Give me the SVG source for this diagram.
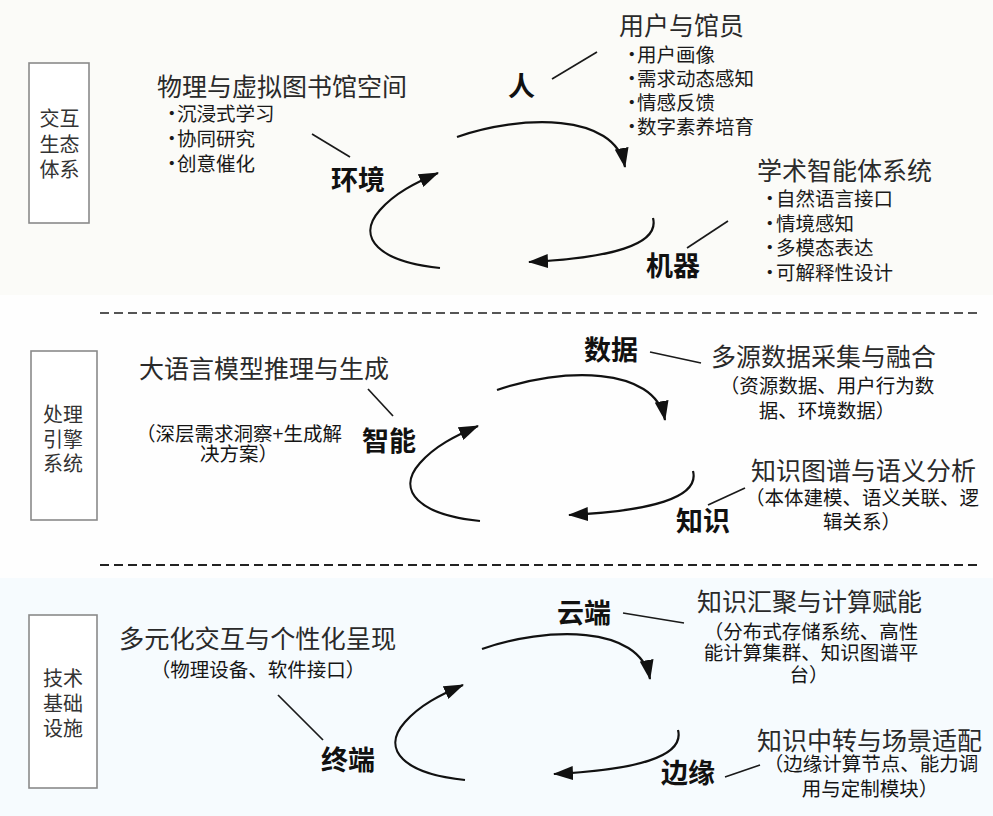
<svg xmlns="http://www.w3.org/2000/svg" width="993" height="816" viewBox="0 0 993 816">
<style>
text{font-family:"Noto Sans CJK SC","Noto Sans",sans-serif;fill:#1e1e1e}
.box{fill:#fff;stroke:#8a8a8a;stroke-width:1.6}
.bl{font-size:20px;fill:#333;text-anchor:middle}
.hd{font-size:25px;font-weight:400;fill:#2a2a2a}
.it{font-size:19.5px;fill:#1a1a1a}
.sub{font-size:19.5px;fill:#151515;text-anchor:middle}
.kw{font-size:27px;font-weight:bold;fill:#111}
.arc{fill:none;stroke:#111;stroke-width:2.2;marker-end:url(#ah)}
.ln{stroke:#1a1a1a;stroke-width:1.7}
.dash{stroke-width:2;stroke-dasharray:9 5}
</style>
<defs>
<marker id="ah" markerUnits="userSpaceOnUse" markerWidth="20" markerHeight="14" viewBox="0 0 20 14" refX="19" refY="7" orient="auto">
<path d="M0,0 L20,7 L0,14 z" fill="#111"/>
</marker>
</defs>
<rect x="0" y="0" width="993" height="816" fill="#fefefe"/>
<rect x="0" y="0" width="993" height="295" fill="#fbfbf8"/>
<rect x="0" y="578" width="993" height="238" fill="#f6fbfe"/>
<line class="dash" x1="100" y1="313" x2="980" y2="313" stroke="#555"/>
<line class="dash" x1="100" y1="565" x2="980" y2="565" stroke="#222"/>

<g id="box-interaction">
<rect class="box" x="29" y="63" width="60" height="160"/>
<text class="bl" x="59.5" y="126">交互</text>
<text class="bl" x="59.5" y="151.5">生态</text>
<text class="bl" x="59.5" y="177">体系</text>
</g>
<g id="box-engine">
<rect class="box" x="31" y="351" width="66" height="169"/>
<text class="bl" x="63" y="421.5">处理</text>
<text class="bl" x="63" y="446.5">引擎</text>
<text class="bl" x="63" y="470.5">系统</text>
</g>
<g id="box-infra">
<rect class="box" x="29" y="615" width="68" height="173"/>
<text class="bl" x="63" y="685.5">技术</text>
<text class="bl" x="63" y="710.5">基础</text>
<text class="bl" x="63" y="735.5">设施</text>
</g>

<g id="desc-space">
<text class="hd" x="157" y="96">物理与虚拟图书馆空间</text>
<text class="it" x="162" y="121">•<tspan x="177">沉浸式学习</tspan></text>
<text class="it" x="162" y="146">•<tspan x="177">协同研究</tspan></text>
<text class="it" x="162" y="171">•<tspan x="177">创意催化</tspan></text>
</g>
<g id="node-env"><text class="kw" x="331" y="190">环境</text></g>
<g id="node-human"><text class="kw" x="508" y="96">人</text></g>
<g id="desc-users">
<text class="hd" x="619" y="35">用户与馆员</text>
<text class="it" x="622" y="62">•<tspan x="637">用户画像</tspan></text>
<text class="it" x="622" y="86">•<tspan x="637">需求动态感知</tspan></text>
<text class="it" x="622" y="110">•<tspan x="637">情感反馈</tspan></text>
<text class="it" x="622" y="134">•<tspan x="637">数字素养培育</tspan></text>
</g>
<g id="desc-agent">
<text class="hd" x="757" y="180">学术智能体系统</text>
<text class="it" x="760" y="206">•<tspan x="776">自然语言接口</tspan></text>
<text class="it" x="760" y="230.5">•<tspan x="776">情境感知</tspan></text>
<text class="it" x="760" y="255">•<tspan x="776">多模态表达</tspan></text>
<text class="it" x="760" y="279.5">•<tspan x="776">可解释性设计</tspan></text>
</g>
<g id="node-machine"><text class="kw" x="646" y="276">机器</text></g>

<g id="desc-llm">
<text class="hd" x="139" y="378">大语言模型推理与生成</text>
<text class="sub" x="239" y="441">（深层需求洞察+生成解</text>
<text class="sub" x="239" y="461">决方案）</text>
</g>
<g id="node-intel"><text class="kw" x="362" y="451">智能</text></g>
<g id="node-data"><text class="kw" x="584" y="360">数据</text></g>
<g id="desc-data">
<text class="hd" x="711" y="366">多源数据采集与融合</text>
<text class="sub" x="827" y="393">（资源数据、用户行为数</text>
<text class="sub" x="827" y="418">据、环境数据）</text>
</g>
<g id="desc-kg">
<text class="hd" x="751" y="480">知识图谱与语义分析</text>
<text class="sub" x="862" y="505">（本体建模、语义关联、逻</text>
<text class="sub" x="862" y="529">辑关系）</text>
</g>
<g id="node-know"><text class="kw" x="676" y="531">知识</text></g>

<g id="desc-terminal">
<text class="hd" x="119" y="648" style="font-size:25.2px">多元化交互与个性化呈现</text>
<text class="sub" x="258" y="677">（物理设备、软件接口）</text>
</g>
<g id="node-terminal"><text class="kw" x="321" y="770">终端</text></g>
<g id="node-cloud"><text class="kw" x="557" y="623">云端</text></g>
<g id="desc-cloud">
<text class="hd" x="697" y="611">知识汇聚与计算赋能</text>
<text class="sub" x="811" y="639">（分布式存储系统、高性</text>
<text class="sub" x="811" y="660">能计算集群、知识图谱平</text>
<text class="sub" x="809" y="682">台）</text>
</g>
<g id="desc-edge">
<text class="hd" x="757" y="750">知识中转与场景适配</text>
<text class="sub" x="871" y="771">（边缘计算节点、能力调</text>
<text class="sub" x="870" y="796">用与定制模块）</text>
</g>
<g id="node-edge"><text class="kw" x="661" y="783">边缘</text></g>

<g id="connectors">
<g id="cycle-top">
<path class="arc" d="M457,137 C520,115 615,112 625,167"/>
<path class="arc" d="M653,218 C660,245 610,258 529,262"/>
<path class="arc" d="M440,268 C380,262 355,238 380,210 C395,193 415,183 438,173"/>
</g>
<g id="cycle-mid" transform="translate(40,253)">
<path class="arc" d="M457,137 C520,115 615,112 625,167"/>
<path class="arc" d="M653,218 C660,245 610,258 529,262"/>
<path class="arc" d="M440,268 C380,262 355,238 380,210 C395,193 415,183 438,173"/>
</g>
<g id="cycle-bot" transform="translate(25,512)">
<path class="arc" d="M457,137 C520,115 615,112 625,167"/>
<path class="arc" d="M653,218 C660,245 610,258 529,262"/>
<path class="arc" d="M440,268 C380,262 355,238 380,210 C395,193 415,183 438,173"/>
</g>
<line class="ln" x1="312" y1="134" x2="350" y2="157"/>
<line class="ln" x1="552" y1="79" x2="597" y2="52"/>
<line class="ln" x1="687" y1="248" x2="728" y2="221"/>
<line class="ln" x1="368" y1="389" x2="393" y2="416"/>
<line class="ln" x1="650" y1="352" x2="701" y2="363"/>
<line class="ln" x1="708" y1="505" x2="745" y2="488"/>
<line class="ln" x1="278" y1="695" x2="323" y2="740"/>
<line class="ln" x1="623" y1="613" x2="684" y2="623"/>
<line class="ln" x1="725" y1="777" x2="760" y2="765"/>
</g>
</svg>
